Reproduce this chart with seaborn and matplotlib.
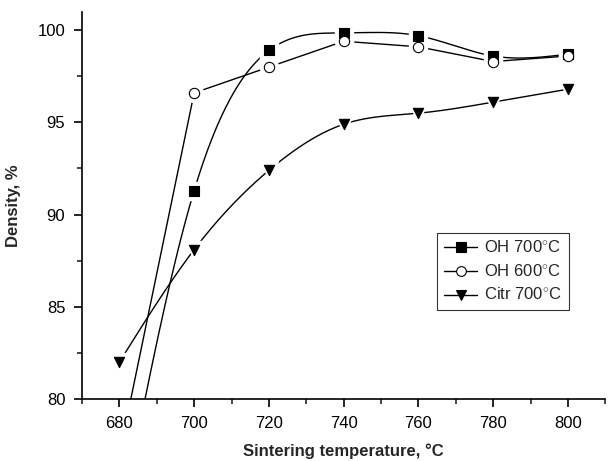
import numpy as np
import pandas as pd
import matplotlib
matplotlib.use("Agg")
import matplotlib.pyplot as plt
import seaborn as sns
from matplotlib.ticker import MultipleLocator

temps = [680, 700, 720, 740, 760, 780, 800]
oh700 = [73.0, 91.3, 98.9, 99.85, 99.7, 98.6, 98.7]
oh600 = [77.0, 96.6, 98.0, 99.4, 99.1, 98.3, 98.6]
citr700 = [82.0, 88.1, 92.4, 94.9, 95.5, 96.1, 96.8]
labels = [r"OH 700$^{\circ}$C", r"OH 600$^{\circ}$C", r"Citr 700$^{\circ}$C"]


def natural_spline(x, y, n=300):
    x = np.asarray(x, float); y = np.asarray(y, float)
    k = len(x); h = np.diff(x)
    A = np.zeros((k, k)); b = np.zeros(k)
    A[0, 0] = A[-1, -1] = 1
    for i in range(1, k - 1):
        A[i, i - 1] = h[i - 1]; A[i, i] = 2 * (h[i - 1] + h[i]); A[i, i + 1] = h[i]
        b[i] = 6 * ((y[i + 1] - y[i]) / h[i] - (y[i] - y[i - 1]) / h[i - 1])
    M = np.linalg.solve(A, b)
    xs = np.linspace(x[0], x[-1], n); ys = np.empty_like(xs)
    for j, xv in enumerate(xs):
        i = min(np.searchsorted(x, xv, side="right") - 1, k - 2)
        t1 = x[i + 1] - xv; t0 = xv - x[i]
        ys[j] = (M[i] * t1**3 + M[i + 1] * t0**3) / (6 * h[i]) + \
                (y[i] / h[i] - M[i] * h[i] / 6) * t1 + (y[i + 1] / h[i] - M[i + 1] * h[i] / 6) * t0
    return xs, ys


sns.set_style("ticks")
plt.rcParams["font.family"] = ["Liberation Sans", "DejaVu Sans"]
plt.rcParams["mathtext.fontset"] = "custom"
plt.rcParams["mathtext.rm"] = "Liberation Sans"

fig = plt.figure(figsize=(6.12, 4.61), dpi=100)
ax = fig.add_axes([0.134, 0.1345, 0.855, 0.84])

series = [(oh700, "s", "black", True), (oh600, "o", "white", False), (citr700, "v", "black", True)]
for vals, mk, face, smooth in series:
    if smooth:
        xs, ys = natural_spline(temps, vals)
    else:
        xs, ys = np.array(temps, float), np.array(vals, float)
    sns.lineplot(x=xs, y=ys, ax=ax, color="black", lw=1.0, sort=False, estimator=None, zorder=2)

for vals, mk, face, smooth in series:
    ax.plot(temps, vals, ls="none", marker=mk, ms=13, mfc="white", mec="white", zorder=3)
handles = []
for (vals, mk, face, smooth), lab in zip(series, labels):
    sns.scatterplot(x=temps, y=vals, ax=ax, marker=mk, s=55, color=face,
                    edgecolor="black", linewidth=0.8, zorder=4)
    h, = ax.plot([], [], color="black", lw=1.0, marker=mk, ms=7, mfc=face, mec="black", mew=0.8)
    handles.append(h)

ax.set_xlim(670, 810)
ax.set_ylim(80, 101)
ax.xaxis.set_major_locator(MultipleLocator(20))
ax.xaxis.set_minor_locator(MultipleLocator(10))
ax.yaxis.set_major_locator(MultipleLocator(5))
ax.yaxis.set_minor_locator(MultipleLocator(2.5))
ax.tick_params(which="major", direction="out", length=6, width=1.2, labelsize=12, colors="black", pad=6)
ax.tick_params(which="minor", direction="out", length=3.5, width=1.2)
for s in ["top", "right"]:
    ax.spines[s].set_visible(False)
for s in ["left", "bottom"]:
    ax.spines[s].set_linewidth(1.2)
    ax.spines[s].set_color("black")

ax.set_xlabel("Sintering temperature, °C", fontsize=12, fontweight="bold", labelpad=9)
ax.set_ylabel("Density, %", fontsize=12, fontweight="bold", labelpad=12)

leg = ax.legend(handles, labels, loc="upper left", bbox_to_anchor=(0.679, 0.429), frameon=True,
                fancybox=False, edgecolor="black", fontsize=12, handlelength=2.0,
                handletextpad=0.4, borderpad=0.4, labelspacing=0.42, borderaxespad=0)
leg.get_frame().set_linewidth(0.8)

fig.savefig("out.png", dpi=100)
